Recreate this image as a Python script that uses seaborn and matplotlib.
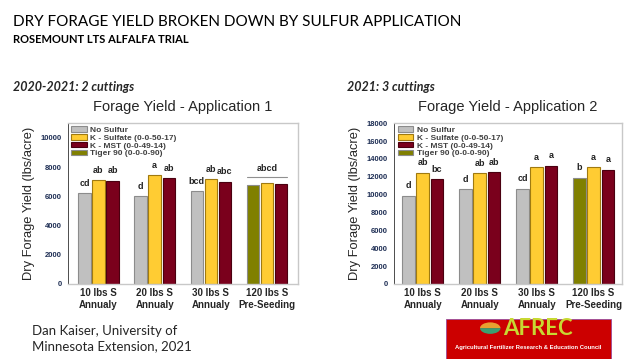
import matplotlib
matplotlib.use("Agg")
import matplotlib.pyplot as plt
from matplotlib.patches import Patch, Rectangle, Wedge
import numpy as np
import pandas as pd
import seaborn as sns

# data
groups = ["10 lbs S\nAnnualy", "20 lbs S\nAnnualy", "30 lbs S\nAnnualy", "120 lbs S\nPre-Seeding"]
treatments = ["No Sulfur", "K - Sulfate (0-0-50-17)", "K - MST (0-0-49-14)", "Tiger 90 (0-0-0-90)"]

# three bars per group: first bar is No Sulfur, except the last group (Tiger 90)
app1_yield = [[6200, 7080, 7060],
              [6000, 7430, 7230],
              [6330, 7170, 6990],
              [6740, 6880, 6830]]
app1_letters = [["cd", "ab", "ab"],
                ["d", "a", "ab"],
                ["bcd", "ab", "abc"],
                ["", "", ""]]
app1_group_letter = "abcd"  # single letter over group 4
app1_group_line = 7330

app2_yield = [[9900, 12450, 11700],
              [10600, 12400, 12500],
              [10650, 13050, 13200],
              [11900, 13050, 12800]]
app2_letters = [["d", "ab", "bc"],
                ["d", "ab", "ab"],
                ["cd", "a", "a"],
                ["b", "a", "a"]]

colors = {"No Sulfur": "#C0C0C0", "K - Sulfate (0-0-50-17)": "#FFCC33",
          "K - MST (0-0-49-14)": "#7A001C", "Tiger 90 (0-0-0-90)": "#808000"}
edges = {"No Sulfur": "#8C8C8C", "K - Sulfate (0-0-50-17)": "#A07A10",
         "K - MST (0-0-49-14)": "#4A0010", "Tiger 90 (0-0-0-90)": "#8C8C8C"}

tick_color = "#1F2F55"
arial = "Liberation Sans"


def make_frame(values):
    rows = []
    for g, vals in zip(groups, values):
        for slot, v in enumerate(vals):
            if slot == 0:
                trt = "Tiger 90 (0-0-0-90)" if g.startswith("120") else "No Sulfur"
            else:
                trt = treatments[slot]
            rows.append({"group": g, "slot": slot, "treatment": trt, "yield": v})
    return pd.DataFrame(rows)


def draw_panel(ax, values, letters, ymax, ystep, title):
    df = make_frame(values)
    sns.barplot(data=df, x="group", y="yield", hue="slot", order=groups,
                palette=["#C0C0C0", "#FFCC33", "#7A001C"], width=0.75,
                gap=0.12, legend=False, ax=ax, saturation=1)
    # recolour bars per treatment, df rows are already in group/slot order
    bars = sorted([p for p in ax.patches if p.get_height() > 0], key=lambda p: p.get_x())
    for p, (_, row) in zip(bars, df.iterrows()):
        p.set_facecolor(colors[row["treatment"]])
        p.set_edgecolor(edges[row["treatment"]])
        p.set_linewidth(0.8)
    flat_letters = [l for grp in letters for l in grp]
    for p, lab in zip(bars, flat_letters):
        if lab:
            ax.text(p.get_x() + p.get_width() / 2, p.get_height() + ymax * 0.035, lab,
                    ha="center", va="bottom", fontsize=6.5, fontweight="bold",
                    family=arial, color="#222222")
    ax.set_ylim(0, ymax)
    ax.set_yticks(np.arange(0, ymax + 1, ystep))
    ax.tick_params(axis="y", labelsize=5.5, labelcolor=tick_color, length=2.5,
                   width=0.6, direction="out", pad=2)
    ax.tick_params(axis="x", length=0, labelsize=7, pad=3)
    for lab in ax.get_yticklabels():
        lab.set_fontweight("bold")
        lab.set_family(arial)
    for lab in ax.get_xticklabels():
        lab.set_fontweight("bold")
        lab.set_family(arial)
        lab.set_linespacing(1.25)
    ax.set_xlabel("")
    ax.set_ylabel("Dry Forage Yield (lbs/acre)", fontsize=9.3, family=arial,
                  labelpad=4)
    ax.set_title(title, fontsize=10.5, family=arial, pad=9)
    for side in ["top", "right", "bottom"]:
        ax.spines[side].set_color("#C8C8C8")
        ax.spines[side].set_linewidth(1.0)
    ax.spines["left"].set_color("#303030")
    ax.spines["left"].set_linewidth(0.6)
    handles = [Patch(facecolor=colors[t], edgecolor=edges[t], linewidth=0.8) for t in treatments]
    leg = ax.legend(handles, treatments, loc="upper left", frameon=False,
                    prop={"family": arial, "size": 6.0, "weight": "bold"},
                    handlelength=1.9, handleheight=0.6, labelspacing=0.02,
                    borderaxespad=0.2, handletextpad=0.4, borderpad=0.2)
    for t in leg.get_texts():
        t.set_color("#404040")
    return bars


sns.set_theme(style="white")
plt.rcParams["font.family"] = ["Lato", "DejaVu Sans"]

fig = plt.figure(figsize=(6.4, 3.59), dpi=100)
fig.patch.set_facecolor("white")

ax1 = fig.add_axes([0.106, 0.209, 0.359, 0.448])
ax2 = fig.add_axes([0.616, 0.209, 0.356, 0.448])

bars1 = draw_panel(ax1, app1_yield, app1_letters, 11000, 2000, "Forage Yield - Application 1")
bars2 = draw_panel(ax2, app2_yield, app2_letters, 18000, 2000, "Forage Yield - Application 2")

# grouping line + letter over the 120 lbs group in application 1
x0 = bars1[9].get_x()
x1 = bars1[11].get_x() + bars1[11].get_width()
ax1.plot([x0, x1], [app1_group_line, app1_group_line], color="#909090", lw=0.8)
ax1.text((x0 + x1) / 2, app1_group_line + 250, app1_group_letter, ha="center",
         va="bottom", fontsize=6.5, fontweight="bold", family=arial, color="#222222")

# slide headings
fig.text(0.020, 0.939, "DRY FORAGE YIELD BROKEN DOWN BY SULFUR APPLICATION",
         fontsize=11, ha="left", va="center", color="black")
fig.text(0.020, 0.891, "ROSEMOUNT LTS ALFALFA TRIAL", fontsize=8,
         fontweight="bold", ha="left", va="center", color="black")
fig.text(0.020, 0.757, "2020-2021: 2 cuttings", fontsize=9, fontweight="bold",
         style="italic", ha="left", va="center")
fig.text(0.542, 0.757, "2021: 3 cuttings", fontsize=9, fontweight="bold",
         style="italic", ha="left", va="center")
fig.text(0.050, 0.056, "Dan Kaiser, University of\nMinnesota Extension, 2021",
         fontsize=9.5, ha="left", va="center", linespacing=1.35)

# AFREC logo box
fig.patches.append(Rectangle((0.697, 0.0), 0.258, 0.112, transform=fig.transFigure,
                             facecolor="#CC0000", edgecolor="#9A4A9A", lw=0.6))
fig.patches.append(Wedge((0.766, 0.086), 0.016, 0, 180, transform=fig.transFigure,
                         facecolor="#E8A030", edgecolor="none"))
fig.patches.append(Wedge((0.766, 0.086), 0.016, 180, 360, transform=fig.transFigure,
                         facecolor="#3AA070", edgecolor="none"))
fig.text(0.841, 0.086, "AFREC", fontsize=16, fontweight="bold", ha="center",
         va="center", color="#C8D832", family="Lato")
fig.text(0.826, 0.033, "Agricultural Fertilizer Research & Education Council",
         fontsize=4.2, fontweight="bold", ha="center", va="center",
         color="white", family=arial)

fig.savefig("out.png", dpi=100)
